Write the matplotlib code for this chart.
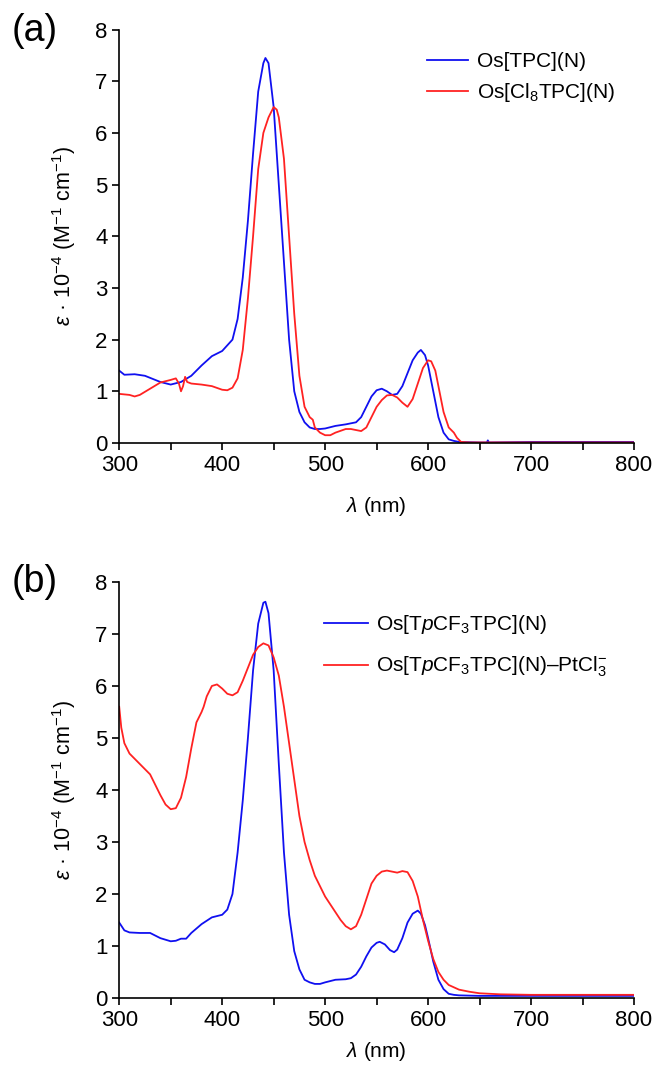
import matplotlib
matplotlib.use('Agg')
import matplotlib.pyplot as plt
from matplotlib.ticker import MultipleLocator

plt.rcParams['font.family'] = ['Liberation Sans', 'DejaVu Sans']
plt.rcParams['mathtext.fontset'] = 'custom'
plt.rcParams['mathtext.rm'] = 'Liberation Sans'
plt.rcParams['mathtext.it'] = 'Liberation Sans:italic'

BLUE = '#1010f0'
RED = '#ff2222'

# Panel (a): Os[TPC](N)
a_blue_x = [300, 305, 315, 325, 340, 350, 360, 370, 380, 390, 400, 410, 415, 420, 425,
            430, 435, 440, 442, 445, 450, 455, 460, 465, 470, 475, 480, 485, 490, 495,
            500, 510, 520, 530, 535, 540, 545, 550, 555, 560, 565, 570, 575, 580, 585,
            590, 593, 597, 600, 605, 610, 615, 620, 625, 630, 650, 657, 658, 659, 700, 800]
a_blue_y = [1.40, 1.32, 1.33, 1.30, 1.18, 1.13, 1.18, 1.30, 1.50, 1.68, 1.78, 2.00, 2.40, 3.20, 4.30,
            5.60, 6.80, 7.35, 7.45, 7.35, 6.50, 5.00, 3.50, 2.00, 1.00, 0.60, 0.40, 0.30, 0.27, 0.27,
            0.28, 0.33, 0.36, 0.40, 0.50, 0.70, 0.90, 1.02, 1.05, 1.00, 0.93, 0.95, 1.10, 1.35, 1.60,
            1.75, 1.80, 1.70, 1.50, 1.00, 0.50, 0.20, 0.07, 0.04, 0.02, 0.01, 0.01, 0.05, 0.01, 0.02, 0.02]

# Panel (a): Os[Cl8TPC](N)
a_red_x = [300, 310, 315, 320, 330, 340, 350, 355, 358, 360, 362, 364, 366, 370, 380,
           390, 400, 405, 410, 415, 420, 425, 430, 435, 440, 445, 450, 453, 455, 460,
           465, 470, 475, 480, 485, 488, 490, 495, 500, 505, 510, 520, 525, 530, 535,
           540, 545, 550, 555, 560, 565, 570, 575, 580, 585, 590, 595, 600, 603, 607,
           610, 615, 620, 625, 628, 632, 640, 800]
a_red_y = [0.95, 0.93, 0.90, 0.93, 1.05, 1.17, 1.22, 1.25, 1.15, 1.00, 1.10, 1.28, 1.18, 1.15, 1.13,
           1.10, 1.03, 1.02, 1.07, 1.25, 1.80, 2.80, 4.00, 5.30, 6.00, 6.30, 6.50, 6.45, 6.30, 5.50,
           4.00, 2.50, 1.30, 0.70, 0.50, 0.45, 0.30, 0.20, 0.15, 0.15, 0.20, 0.27, 0.27, 0.25, 0.23,
           0.30, 0.50, 0.70, 0.83, 0.92, 0.93, 0.88, 0.78, 0.70, 0.85, 1.15, 1.45, 1.60, 1.58, 1.40,
           1.10, 0.60, 0.30, 0.20, 0.10, 0.02, 0.01, 0.01]

# Panel (b): Os[TpCF3TPC](N)
b_blue_x = [300, 305, 310, 320, 330, 340, 350, 355, 360, 365, 370, 380, 390, 400, 405,
            410, 415, 420, 425, 430, 435, 440, 442, 445, 450, 455, 460, 465, 470, 475,
            480, 485, 490, 495, 500, 510, 520, 525, 530, 535, 540, 545, 550, 553, 558,
            563, 567, 570, 575, 580, 585, 590, 593, 597, 600, 605, 610, 615, 620, 625,
            630, 650, 700, 800]
b_blue_y = [1.45, 1.30, 1.26, 1.25, 1.25, 1.15, 1.09, 1.10, 1.14, 1.14, 1.25, 1.42, 1.55, 1.60, 1.70,
            2.00, 2.80, 3.80, 5.00, 6.30, 7.20, 7.60, 7.62, 7.40, 6.30, 4.50, 2.80, 1.60, 0.90, 0.55,
            0.35, 0.30, 0.27, 0.27, 0.30, 0.35, 0.36, 0.38, 0.45, 0.60, 0.80, 0.97, 1.06, 1.08, 1.03,
            0.92, 0.88, 0.93, 1.15, 1.45, 1.62, 1.68, 1.62, 1.40, 1.15, 0.70, 0.35, 0.17, 0.08, 0.06,
            0.05, 0.04, 0.04, 0.04]

# Panel (b): Os[TpCF3TPC](N)-PtCl3-
b_red_x = [300, 302, 305, 310, 320, 330, 335, 340, 345, 350, 355, 360, 365, 370, 375,
           380, 382, 385, 390, 395, 400, 405, 410, 415, 420, 425, 430, 435, 440, 445,
           450, 455, 460, 465, 470, 475, 480, 485, 490, 495, 500, 505, 510, 515, 520,
           525, 530, 535, 540, 545, 550, 555, 560, 565, 570, 575, 580, 585, 590, 595,
           600, 605, 610, 615, 620, 630, 640, 650, 670, 700, 800]
b_red_y = [5.60, 5.20, 4.90, 4.70, 4.50, 4.30, 4.10, 3.90, 3.72, 3.63, 3.65, 3.85, 4.25, 4.80, 5.30,
           5.50, 5.60, 5.80, 6.00, 6.03, 5.95, 5.85, 5.82, 5.88, 6.10, 6.35, 6.60, 6.75, 6.82, 6.78,
           6.55, 6.20, 5.60, 4.90, 4.20, 3.50, 3.00, 2.65, 2.35, 2.15, 1.95, 1.80, 1.65, 1.50, 1.38,
           1.32, 1.38, 1.60, 1.90, 2.20, 2.35, 2.43, 2.45, 2.43, 2.41, 2.44, 2.42, 2.25, 1.95, 1.50,
           1.10, 0.75, 0.50, 0.35, 0.25, 0.16, 0.12, 0.09, 0.07, 0.06, 0.06]

a_labels = ['Os[TPC](N)', 'Os[Cl$_8$TPC](N)']
b_labels = ['Os[T$\\it{p}$CF$_3$TPC](N)', 'Os[T$\\it{p}$CF$_3$TPC](N)\u2013PtCl$_3^{-}$']
ylabel = '$\\varepsilon$ \u00b7 10$^{-4}$ (M$^{-1}$ cm$^{-1}$)'
xlabel = '$\\lambda$ (nm)'

fig = plt.figure(figsize=(6.55, 10.71), dpi=100)
ax_a = fig.add_axes([0.182, 0.5864, 0.786, 0.386])
ax_b = fig.add_axes([0.182, 0.0682, 0.786, 0.3884])


def style(ax, xpad):
    ax.set_xlim(300, 800)
    ax.set_ylim(0, 8)
    ax.xaxis.set_major_locator(MultipleLocator(100))
    ax.xaxis.set_minor_locator(MultipleLocator(50))
    ax.yaxis.set_major_locator(MultipleLocator(1))
    for s in ('top', 'right'):
        ax.spines[s].set_visible(False)
    for s in ('left', 'bottom'):
        ax.spines[s].set_linewidth(1.2)
    ax.tick_params(which='both', direction='out', length=5, width=1.2, labelsize=16)
    ax.set_xlabel(xlabel, fontsize=15, labelpad=xpad)
    ax.set_ylabel(ylabel, fontsize=15.5, labelpad=12)


ax_a.plot(a_blue_x, a_blue_y, color=BLUE, lw=1.3, label=a_labels[0])
ax_a.plot(a_red_x, a_red_y, color=RED, lw=1.3, label=a_labels[1])
style(ax_a, 14)
ax_a.legend(loc='upper right', bbox_to_anchor=(0.995, 0.985), frameon=False, fontsize=15,
            handlelength=2.0, handletextpad=0.4, labelspacing=0.45, borderpad=0.3)

ax_b.plot(b_blue_x, b_blue_y, color=BLUE, lw=1.3, label=b_labels[0])
ax_b.plot(b_red_x, b_red_y, color=RED, lw=1.3, label=b_labels[1])
style(ax_b, 7)
ax_b.legend(loc='upper right', bbox_to_anchor=(0.98, 0.965), frameon=False, fontsize=15,
            handlelength=2.1, handletextpad=0.4, labelspacing=0.9, borderpad=0.3)

fig.text(0.018, 0.988, '(a)', fontsize=27, va='top', ha='left')
fig.text(0.018, 0.473, '(b)', fontsize=27, va='top', ha='left')

fig.savefig('out.png', dpi=100)
